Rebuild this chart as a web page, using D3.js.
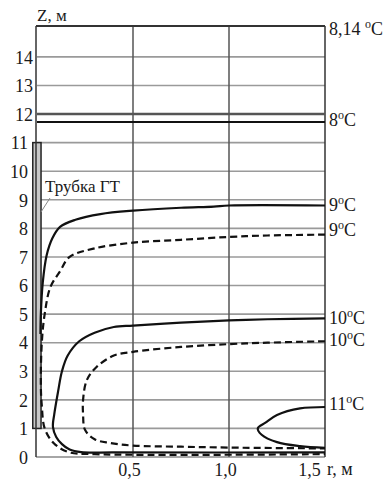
<!DOCTYPE html>
<html>
<head>
<meta charset="utf-8">
<script src="https://cdn.jsdelivr.net/npm/d3@7"></script>
<style>
  body { margin: 0; background: #fff; }
  svg { display: block; }
  text { font-family: "Liberation Serif", "Times New Roman", "DejaVu Serif", serif; fill: #1a1a1a; }
</style>
</head>
<body>
<svg id="chart" width="388" height="480"></svg>
<script>
// isotherm data (r in m, z in m)
const solid9 = [[1.5,8.8],[1.0,8.8],[0.92,8.76],[0.75,8.72],[0.5,8.62],[0.33,8.5],[0.2,8.3],[0.12,8.05],[0.08,7.65],[0.05,7.05],[0.03,6.1],[0.02,5.0],[0.018,4.3]];
const dashed9 = [[1.5,7.78],[1.2,7.75],[1.0,7.7],[0.75,7.6],[0.5,7.5],[0.3,7.3],[0.17,7.0],[0.12,6.5],[0.07,5.95],[0.04,5.0],[0.025,4.0],[0.02,2.5],[0.025,1.8],[0.04,1.0],[0.085,0.5],[0.16,0.18],[0.3,0.1],[1.5,0.1]];
const solid10 = [[1.5,4.85],[1.2,4.82],[1.0,4.78],[0.75,4.7],[0.5,4.6],[0.4,4.55],[0.3,4.35],[0.22,4.05],[0.16,3.55],[0.13,3.0],[0.11,2.3],[0.09,1.5],[0.083,1.05],[0.1,0.7],[0.13,0.45],[0.17,0.26],[0.23,0.17],[0.4,0.16],[1.5,0.16]];
const dashed10 = [[1.5,4.05],[1.2,4.0],[1.0,3.95],[0.75,3.85],[0.5,3.68],[0.4,3.55],[0.31,3.15],[0.26,2.7],[0.24,2.0],[0.24,1.5],[0.25,0.95],[0.3,0.62],[0.38,0.49],[0.5,0.4],[0.75,0.36],[1.0,0.33],[1.5,0.3]];
const solid11 = [[1.5,1.75],[1.37,1.7],[1.25,1.47],[1.19,1.2],[1.15,1.0],[1.17,0.78],[1.25,0.52],[1.37,0.38],[1.5,0.32]];

const zTicks = d3.range(0, 15);
const rTicks = [0.5, 1.0, 1.5];
const rTickLabels = ["0,5", "1,0", "1,5"];
const gridZ = [1,2,3,4,5,6,7,8,9,10,11,13,14];

// isotherm labels on the right: text and z of the line
const rightLabels = [
  { t: "8,14 ", z: 15.08, dy: 9 },
  { t: "8", z: 11.86, dy: 8 },
  { t: "9", z: 8.8, dy: 6 },
  { t: "9", z: 7.78, dy: 1 },
  { t: "10", z: 4.85, dy: 6 },
  { t: "10", z: 4.05, dy: 5 },
  { t: "11", z: 1.75, dy: 3 }
];

const svg = d3.select("#chart");
const x = d3.scaleLinear().domain([0, 1.5]).range([37, 325]);
const y = d3.scaleLinear().domain([0, 15.08]).range([457, 26]);

// horizontal grid
svg.append("g").selectAll("line").data(gridZ).enter().append("line")
  .attr("x1", x(0)).attr("x2", x(1.5))
  .attr("y1", d => y(d)).attr("y2", d => y(d))
  .attr("stroke", "#9a9a9a").attr("stroke-width", 1.6);

// bottom axis line
svg.append("line").attr("x1", x(0) - 1).attr("x2", x(1.5))
  .attr("y1", y(0)).attr("y2", y(0))
  .attr("stroke", "#888").attr("stroke-width", 1.4);

// vertical grid + right border
svg.append("g").selectAll("line").data(rTicks).enter().append("line")
  .attr("x1", d => x(d)).attr("x2", d => x(d))
  .attr("y1", y(0)).attr("y2", y(15.08))
  .attr("stroke", (d, i) => i === 2 ? "#333" : "#555").attr("stroke-width", 1.5);

// 8.14 top line, 12 m line and 8°C line
svg.append("line").attr("x1", x(0) - 1).attr("x2", x(1.5))
  .attr("y1", y(15.08)).attr("y2", y(15.08))
  .attr("stroke", "#333").attr("stroke-width", 2);
svg.append("line").attr("x1", x(0)).attr("x2", x(1.5))
  .attr("y1", y(12)).attr("y2", y(12))
  .attr("stroke", "#555").attr("stroke-width", 2.6);
svg.append("line").attr("x1", x(0)).attr("x2", x(1.5))
  .attr("y1", y(11.72)).attr("y2", y(11.72))
  .attr("stroke", "#111").attr("stroke-width", 2);

// tube
svg.append("rect")
  .attr("x", x(-0.022)).attr("width", x(0.021) - x(-0.022))
  .attr("y", y(11)).attr("height", y(1) - y(11))
  .attr("fill", "#c8c8c8").attr("stroke", "#222").attr("stroke-width", 1.5);

// left axis line
svg.append("line").attr("x1", x(0) - 1).attr("x2", x(0) - 1)
  .attr("y1", y(0)).attr("y2", y(15.08))
  .attr("stroke", "#333").attr("stroke-width", 1.5);

// y axis labels
const yAxis = svg.append("g")
  .attr("transform", `translate(${x(0)},0)`)
  .call(d3.axisLeft(y).tickValues(zTicks).tickSize(0).tickFormat(d3.format("d")));
yAxis.select(".domain").remove();
yAxis.selectAll("text")
  .attr("x", d => d >= 12 ? -4 : -9)
  .attr("dy", "0.35em")
  .style("font-size", "18px");

// x axis labels
const xAxis = svg.append("g")
  .attr("transform", `translate(0,${y(0)})`)
  .call(d3.axisBottom(x).tickValues(rTicks).tickSize(0)
    .tickFormat((d, i) => rTickLabels[i]));
xAxis.select(".domain").remove();
xAxis.selectAll("text")
  .attr("y", 6).attr("dx", d => d === 1.5 ? -16 : -4)
  .style("font-size", "18px");
svg.append("text").attr("x", 327).attr("y", 475)
  .style("font-size", "18px").text("r, м");

svg.append("text").attr("x", 37).attr("y", 21)
  .style("font-size", "17px").text("Z, м");

// isotherms
const line = d3.line()
  .x(d => x(d[0])).y(d => y(d[1]))
  .curve(d3.curveCatmullRom.alpha(0.5));

const curves = [
  { d: solid9, dash: null },
  { d: dashed9, dash: "7,4" },
  { d: solid10, dash: null },
  { d: dashed10, dash: "7,4" },
  { d: solid11, dash: null }
];
svg.append("g").selectAll("path").data(curves).enter().append("path")
  .attr("d", c => line(c.d))
  .attr("fill", "none").attr("stroke", "#111").attr("stroke-width", 2.2)
  .attr("stroke-dasharray", c => c.dash);

// tube label and leader
svg.append("line").attr("x1", 50).attr("y1", 198).attr("x2", 41).attr("y2", 212)
  .attr("stroke", "#888").attr("stroke-width", 1);
svg.append("text").attr("x", 45).attr("y", 192)
  .style("font-size", "17px").text("Трубка ГТ");

// right labels
const rl = svg.append("g").selectAll("text").data(rightLabels).enter().append("text")
  .attr("x", 329).attr("y", d => y(d.z) + d.dy)
  .style("font-size", "18px");
rl.append("tspan").text(d => d.t);
rl.append("tspan").attr("dy", -7).style("font-size", "12px").text("o");
rl.append("tspan").attr("dy", 7).text("C");
</script>
</body>
</html>
